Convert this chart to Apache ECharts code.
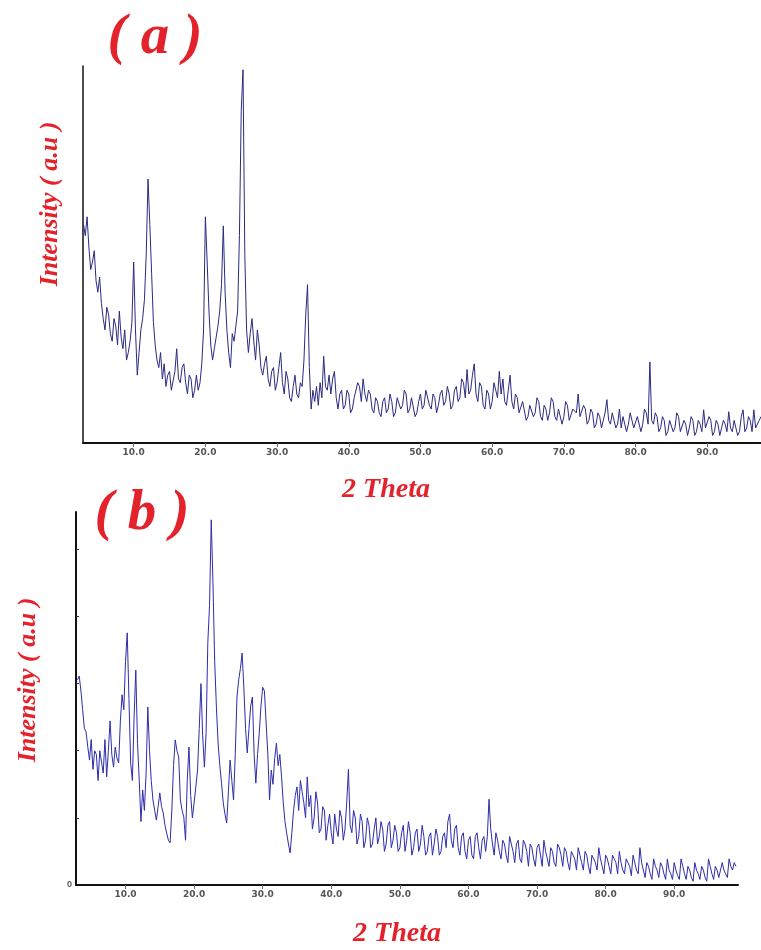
<!DOCTYPE html>
<html><head><meta charset="utf-8">
<script src="https://cdn.jsdelivr.net/npm/echarts@6/dist/echarts.min.js"></script>
<style>html,body{margin:0;padding:0;background:#fff}#c{width:761px;height:950px}</style>
</head><body><div id="c"></div>
<script>
// X tick labels (2 Theta, degrees)
const xTickLabels = [10, 20, 30, 40, 50, 60, 70, 80, 90];
// y tick marks on panel (b) and its only label
const yTicksB = [18, 36, 54, 72, 90];
const yLabelsB = [0];
// sampling grid of the patterns (degrees)
const startA = 3.0, startB = 3.0, stepDeg = 0.25;
// Panel (a) intensity (a.u.), 3.0° .. 97.5°
const intensityA = [
  58,55,60,52,46,48,51,43,40,44,37,33,30,36,34,29,27,33,31,26,
  35,28,25,30,22,24,27,32,48,30,18,24,30,33,38,50,70,58,45,32,
  26,22,20,24,17,21,15,18,19,14,14,19,25,17,16,20,21,16,13,18,
  17,12,14,18,14,16,21,30,60,48,35,26,22,25,28,31,35,42,57.6,40,
  30,24,20,29,27,31,35,55,88,99,50,30,24,29,33,27,22,30,26,20,
  18,21,23,17,15,19,20,14,16,20,24,16,13,19,17,12,11,15,18,13,
  12,16,15,22,34,42,20,9,14,11,15,10,16,12,23,15,14,18,13,17,
  19,12,9,13,14,9,10,14,13,8,9,12,12,16,15,11,17,13,11,14,
  13,9,8,12,11,8,7,11,12,8,9,13,11,7,8,12,12,9,10,14,
  13,8,9,12,12,7,8,11,13,9,10,14,14,10,9,13,12,8,10,13,
  14,10,11,15,13,9,10,14,15,11,12,17,16,12,19.5,13,14,18,21,13,
  11,16,15,10,9,14,13,9,11,16,14,12,19,13,17,11,10,14,18,11,
  9,13,12,8,8,11,11,6,7,10,10,7,8,12,11,7,6,10,9,6,
  8,12,11,7,6,9,9,5,7,11,10,6,6,9,9,8,13,7,7,10,
  9,5,6,9,8,4,5,8,7,4,6,8,11.5,6,5,8,8,4,5,9,
  4,7,7,3,5,8,8,4,4,7,7,3,5,9,8,5,21.5,6,5,8,
  7,3,4,7,6,2,3,6,6,3,4,8,7,3,3,6,5,2,4,7,
  6,2,3,6,5,3,8.8,4,4,7,6,2,3,6,5,2,2.5,6,5,3,
  8.3,4,3,6,6,2,3,7,8.8,3,4,7,6,3,8.8,4,4,6,7
];
// Panel (b) intensity (a.u.), 3.0° .. 99.0°
const intensityB = [
  55,56,52,47,42,41,37,33.5,39,31,36,35,28,36,33,30,39,29,36,44,
  35,31.6,37,34,32.7,44,51,47,60,67.6,50,32.7,28,45,57.6,38,28,17,25.5,20,
  30,47.7,36,28,22.8,20,17.4,21,24.7,21,19.3,16,13.9,12,11.3,20,32,38.9,36,34.3,
  22.8,20,18.2,12,28,37,24,18,22,26.3,30.8,42,54,40,31.6,40.7,65,75,97.9,81,
  60,47.7,38,32,27.3,22,19,16.6,25,33.5,28,22.8,35,50.4,55,58,62.2,53,42,35.4,
  42,48,50.4,35,27.3,35,40.7,48,53,52,51.5,35,22.8,30.8,27,34,38,32,35,29,
  22,17,13.9,11,8.6,14,20,24,26.3,
  20,28,25,22,18,29,21,24,15,18,25,22,14,15,21,20,12,16,19,14,
  11,19,15,13,20,18,12,15,22,31,16,14,20,18,11,13,19,17,10,12,
  18,16,10,11,15,18,11,13,17,15,9,11,16,17,10,12,16,14,9,10,
  14,16,9,12,17,14,8,10,14,15,9,11,16,13,8,9,13,14,8,11,
  15,13,8,9,13,14,10,17,19,12,10,15,16,10,8,13,14,9,7,12,
  13,8,7,13,14,10,7,12,13,9,13,23,15,11,8,14,12,9,7,12,
  11,8,6,13,11,9,6,11,12,7,6,12,11,9,5,11,10,7,5,10,
  11,8,5,12,9,7,5,10,9,6,5,11,10,8,5,10,9,6,4,9,
  8,7,4,10,8,6,4,9,8,5,3,8,7,6,4,10,7,5,3,8,
  7,5,3,8,7,6,3,9,6,4,3,7,6,5,2.5,8,6,4,3,10,
  6,4,2,6,5,3,1.5,7,5,4,2,6,5,3,1.5,7,4,3,1.5,6,
  4,2.5,1.5,7,5,3,1.5,5,4,2,1,6,4,3,1.5,5,4,2,1,7,
  5,3,1.5,5,4,2,1.5,6,4,3,2,7,5,4,6,5
];

const red = '#e3222b';
const titleFont = 'bold italic 57px "Liberation Serif", "DejaVu Serif", serif';
const axisNameFont = 'bold italic 28px "Liberation Serif", "DejaVu Serif", serif';
const yNameFont = 'bold italic 26px "Liberation Serif", "DejaVu Serif", serif';

const chart = echarts.init(document.getElementById('c'), null, {renderer: 'canvas'});

function xAxisCfg(gi, min, max) {
  return {
    gridIndex: gi, type: 'value', min: min, max: max,
    axisLine: {show: true, onZero: false, lineStyle: {color: '#111', width: 2}},
    axisTick: {show: true, customValues: xTickLabels, length: 4, lineStyle: {color: '#666'}},
    axisLabel: {customValues: xTickLabels, formatter: v => v.toFixed(1), fontSize: 9, fontWeight: 'bold',
      color: '#555', margin: 5, fontFamily: 'DejaVu Sans'},
    splitLine: {show: false}
  };
}

const option = {
  animation: false,
  backgroundColor: '#fff',
  grid: [
    {left: 83, right: 0, top: 66, bottom: 507},
    {left: 76, right: 23, top: 512, bottom: 65}
  ],
  xAxis: [xAxisCfg(0, 2.93, 97.5), xAxisCfg(1, 2.78, 99.3)],
  yAxis: [
    {gridIndex: 0, type: 'value', min: 0, max: 100,
      axisLine: {show: true, lineStyle: {color: '#111', width: 1.5}},
      axisTick: {show: false}, axisLabel: {show: false}, splitLine: {show: false}},
    {gridIndex: 1, type: 'value', min: 0, max: 100,
      axisLine: {show: true, lineStyle: {color: '#111', width: 2}},
      axisTick: {show: true, inside: true, length: 3, customValues: yTicksB, lineStyle: {color: '#333'}},
      axisLabel: {show: true, customValues: yLabelsB, fontSize: 9, color: '#555', margin: 4, fontWeight: 'bold'},
      splitLine: {show: false}}
  ],
  series: [
    {type: 'line', xAxisIndex: 0, yAxisIndex: 0, showSymbol: false, clip: true,
      lineStyle: {color: '#2a2a82', width: 1},
      data: intensityA.map((v, i) => [startA + i * stepDeg, v])},
    {type: 'line', xAxisIndex: 1, yAxisIndex: 1, showSymbol: false, clip: true,
      lineStyle: {color: '#2d2daa', width: 1},
      data: intensityB.map((v, i) => [startB + i * stepDeg, v])}
  ],
  graphic: [
    {type: 'text', x: 155, y: 38, style: {text: '( a )', font: titleFont, fill: red, align: 'center', verticalAlign: 'middle'}},
    {type: 'text', x: 142, y: 514, style: {text: '( b )', font: titleFont, fill: red, align: 'center', verticalAlign: 'middle'}},
    {type: 'text', x: 50, y: 204, rotation: Math.PI / 2, style: {text: 'Intensity ( a.u )', font: yNameFont, fill: red, align: 'center', verticalAlign: 'middle'}},
    {type: 'text', x: 28, y: 680, rotation: Math.PI / 2, style: {text: 'Intensity ( a.u )', font: yNameFont, fill: red, align: 'center', verticalAlign: 'middle'}},
    {type: 'text', x: 386, y: 490, style: {text: '2 Theta', font: axisNameFont, fill: red, align: 'center', verticalAlign: 'middle'}},
    {type: 'text', x: 397, y: 934, style: {text: '2 Theta', font: axisNameFont, fill: red, align: 'center', verticalAlign: 'middle'}}
  ]
};
chart.setOption(option);
</script>
</body></html>
